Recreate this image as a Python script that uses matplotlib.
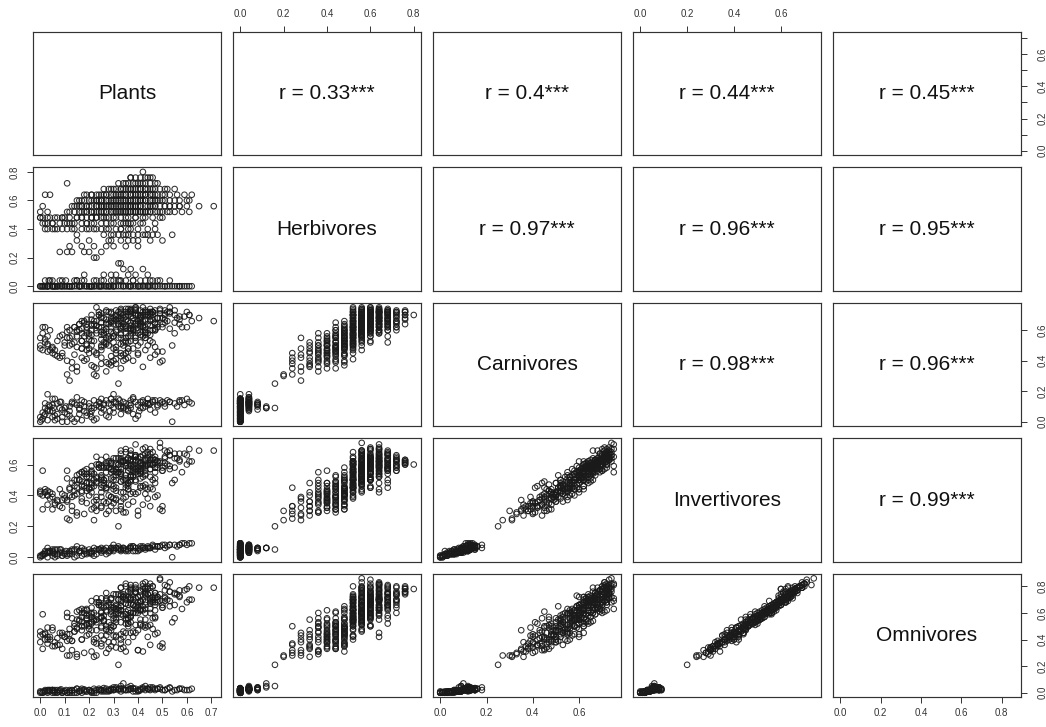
import numpy as np
import matplotlib
matplotlib.use("Agg")
import matplotlib.pyplot as plt

plt.rcParams['font.family'] = ['Liberation Sans', 'DejaVu Sans']

names = ["Plants", "Herbivores", "Carnivores", "Invertivores", "Omnivores"]

# ---- main group, batch 1 ----
main_plants = [
    .32, .22, .23, .13, .11, .20, .25, .12, .17, .27,
    .30, .35, .28, .33, .40, .15, .36, .45, .30, .34,
    .38, .42, .46, .32, .48, .54, .03, .06, .09, .14,
    .20, .25, .31, .36, .40, .44, .02, .05, .08, .12,
    .17, .22, .27, .34, .38, .47, .00, .00, .04, .07,
    .10, .15, .19, .23, .26, .30, .42, .50, .00, .12,
    .16, .18, .21, .24, .26, .29, .31, .33, .35, .37,
    .39, .41, .44, .47, .52, .58, .01, .14, .17, .20,
    .23, .25, .28, .30, .32, .34, .36, .38, .40, .43,
    .46, .49, .55, .71, .65, .15, .18, .22, .24, .27,
    .29, .31, .33, .35, .37, .40, .42, .45, .48, .53,
    .60, .02, .04, .19, .23, .26, .29, .32, .34, .37,
    .39, .42, .46, .50, .56, .62, .26, .30, .33, .36,
    .38, .41, .44, .47, .52, .35, .11, .32, .36, .40,
    .43, .48, .37, .41, .44, .46, .42]
main_herb = [
    .16, .20, .20, .24, .24, .24, .24, .28, .28, .28,
    .28, .28, .32, .32, .32, .32, .32, .32, .36, .36,
    .36, .36, .36, .36, .36, .36, .40, .40, .40, .40,
    .40, .40, .40, .40, .40, .40, .44, .44, .44, .44,
    .44, .44, .44, .44, .44, .44, .48, .48, .48, .48,
    .48, .48, .48, .48, .48, .48, .48, .48, .52, .52,
    .52, .52, .52, .52, .52, .52, .52, .52, .52, .52,
    .52, .52, .52, .52, .52, .52, .56, .56, .56, .56,
    .56, .56, .56, .56, .56, .56, .56, .56, .56, .56,
    .56, .56, .56, .56, .56, .60, .60, .60, .60, .60,
    .60, .60, .60, .60, .60, .60, .60, .60, .60, .60,
    .60, .64, .64, .64, .64, .64, .64, .64, .64, .64,
    .64, .64, .64, .64, .64, .64, .68, .68, .68, .68,
    .68, .68, .68, .68, .68, .68, .72, .72, .72, .72,
    .72, .72, .76, .76, .76, .76, .80]
main_carn = [
    .25, .31, .30, .35, .31, .45, .38, .27, .42, .33,
    .48, .55, .38, .45, .50, .36, .52, .42, .40, .44,
    .48, .36, .52, .55, .46, .50, .50, .47, .45, .52,
    .56, .42, .38, .46, .58, .50, .52, .48, .56, .50,
    .58, .46, .55, .40, .60, .49, .55, .50, .47, .53,
    .50, .56, .62, .44, .58, .52, .63, .40, .48, .55,
    .60, .65, .50, .70, .57, .62, .45, .68, .74, .58,
    .64, .52, .70, .60, .66, .62, .62, .62, .66, .54,
    .60, .68, .56, .64, .72, .50, .66, .61, .70, .58,
    .67, .74, .65, .66, .68, .60, .56, .64, .70, .52,
    .66, .73, .62, .58, .69, .64, .75, .60, .68, .72,
    .62, .62, .60, .64, .58, .68, .72, .64, .70, .60,
    .74, .66, .72, .62, .68, .66, .60, .66, .72, .56,
    .68, .62, .70, .64, .72, .52, .62, .66, .72, .60,
    .70, .64, .72, .68, .64, .70, .70]
main_inv = [
    .20, .24, .30, .30, .25, .45, .33, .24, .36, .28,
    .38, .39, .30, .36, .42, .27, .48, .33, .35, .38,
    .42, .34, .50, .55, .40, .48, .40, .35, .32, .43,
    .48, .32, .30, .44, .56, .38, .42, .31, .44, .40,
    .46, .36, .44, .29, .53, .39, .43, .41, .38, .36,
    .40, .45, .52, .34, .50, .46, .58, .33, .42, .45,
    .50, .54, .42, .60, .48, .55, .38, .62, .68, .50,
    .57, .46, .64, .55, .60, .55, .56, .50, .55, .44,
    .52, .58, .47, .56, .64, .42, .58, .52, .62, .54,
    .60, .74, .58, .69, .69, .50, .46, .54, .58, .45,
    .57, .64, .54, .50, .60, .58, .70, .52, .62, .66,
    .60, .44, .42, .52, .48, .58, .62, .55, .62, .52,
    .66, .60, .68, .56, .64, .62, .50, .56, .64, .48,
    .60, .54, .66, .58, .68, .45, .56, .60, .64, .56,
    .62, .58, .62, .61, .60, .63, .60]
main_omni = [
    .21, .27, .28, .32, .28, .50, .37, .28, .40, .30,
    .43, .45, .33, .40, .47, .27, .55, .36, .38, .42,
    .46, .31, .56, .60, .45, .53, .42, .38, .33, .46,
    .52, .35, .34, .50, .62, .42, .44, .35, .45, .40,
    .50, .40, .48, .34, .60, .44, .46, .38, .40, .36,
    .42, .48, .56, .37, .55, .50, .65, .37, .43, .48,
    .55, .60, .47, .68, .54, .62, .42, .70, .80, .58,
    .65, .52, .74, .62, .70, .63, .59, .52, .60, .48,
    .58, .66, .53, .64, .74, .46, .66, .60, .72, .60,
    .68, .86, .66, .79, .79, .55, .50, .60, .66, .50,
    .64, .74, .62, .56, .70, .66, .82, .60, .72, .76,
    .68, .45, .42, .58, .55, .64, .70, .62, .72, .60,
    .78, .70, .80, .64, .74, .70, .58, .64, .74, .56,
    .70, .62, .78, .68, .80, .52, .60, .70, .76, .64,
    .74, .68, .78, .76, .74, .80, .78]

# ---- main group, batch 2 ----
main2_plants = [
    .18, .08, .22, .40, .20, .38, .50, .26, .36, .44,
    .40, .02, .11, .17, .22, .28, .33, .47, .03, .10,
    .14, .19, .25, .30, .36, .42, .01, .06, .12, .17,
    .21, .28, .33, .36, .39, .46, .03, .14, .19, .22,
    .25, .27, .30, .32, .34, .36, .38, .40, .42, .45,
    .48, .50, .55, .61, .13, .16, .19, .21, .24, .26,
    .29, .31, .33, .35, .37, .39, .41, .44, .47, .51,
    .57, .60, .16, .20, .23, .25, .28, .30, .32, .34,
    .36, .38, .41, .43, .46, .50, .55, .61, .18, .21,
    .24, .27, .30, .33, .35, .38, .40, .43, .45, .48,
    .53, .28, .31, .34, .37, .40, .43, .46, .49, .34,
    .38, .42, .45, .39, .43]
main2_herb = [
    .24, .24, .28, .28, .32, .32, .32, .36, .36, .36,
    .36, .40, .40, .40, .40, .40, .40, .40, .44, .44,
    .44, .44, .44, .44, .44, .44, .48, .48, .48, .48,
    .48, .48, .48, .48, .48, .48, .52, .52, .52, .52,
    .52, .52, .52, .52, .52, .52, .52, .52, .52, .52,
    .52, .52, .52, .52, .56, .56, .56, .56, .56, .56,
    .56, .56, .56, .56, .56, .56, .56, .56, .56, .56,
    .56, .56, .60, .60, .60, .60, .60, .60, .60, .60,
    .60, .60, .60, .60, .60, .60, .60, .60, .64, .64,
    .64, .64, .64, .64, .64, .64, .64, .64, .64, .64,
    .64, .68, .68, .68, .68, .68, .68, .68, .68, .72,
    .72, .72, .72, .76, .76]
main2_carn = [
    .40, .42, .36, .44, .48, .40, .46, .50, .42, .58,
    .45, .54, .40, .48, .53, .50, .55, .44, .46, .52,
    .44, .60, .50, .56, .48, .62, .58, .44, .60, .48,
    .64, .54, .66, .48, .56, .60, .56, .62, .50, .66,
    .54, .72, .58, .64, .52, .70, .60, .66, .56, .72,
    .62, .68, .58, .70, .56, .64, .58, .70, .62, .52,
    .68, .60, .74, .62, .56, .70, .64, .72, .60, .70,
    .64, .72, .64, .58, .66, .62, .72, .56, .68, .64,
    .74, .60, .70, .66, .72, .64, .70, .70, .66, .60,
    .72, .64, .68, .58, .72, .66, .70, .62, .74, .68,
    .72, .64, .70, .62, .74, .66, .60, .72, .68, .68,
    .62, .72, .66, .70, .72]
main2_inv = [
    .28, .33, .32, .27, .40, .36, .30, .36, .46, .44,
    .30, .42, .36, .38, .46, .36, .42, .48, .34, .38,
    .40, .48, .42, .52, .34, .46, .40, .34, .44, .42,
    .48, .40, .55, .44, .50, .44, .40, .46, .48, .50,
    .52, .58, .44, .60, .50, .56, .62, .54, .52, .62,
    .60, .56, .50, .62, .48, .50, .54, .56, .58, .46,
    .60, .50, .62, .60, .52, .66, .56, .68, .58, .64,
    .62, .66, .54, .52, .60, .50, .62, .50, .58, .62,
    .64, .56, .60, .64, .60, .58, .64, .70, .56, .54,
    .60, .60, .64, .54, .70, .58, .64, .58, .70, .62,
    .66, .58, .60, .62, .66, .58, .56, .64, .62, .62,
    .58, .66, .60, .62, .60]
main2_omni = [
    .30, .36, .38, .32, .44, .42, .34, .40, .52, .50,
    .32, .40, .44, .40, .55, .38, .44, .56, .37, .42,
    .46, .52, .50, .56, .38, .50, .44, .35, .44, .50,
    .52, .46, .62, .52, .60, .48, .40, .50, .56, .54,
    .60, .62, .50, .70, .58, .62, .72, .60, .62, .68,
    .72, .64, .56, .70, .56, .54, .62, .60, .68, .54,
    .66, .56, .68, .70, .60, .76, .62, .80, .66, .72,
    .72, .78, .62, .58, .68, .56, .68, .58, .64, .72,
    .72, .66, .68, .76, .70, .66, .74, .80, .62, .64,
    .66, .70, .74, .62, .82, .66, .72, .68, .82, .70,
    .76, .66, .66, .72, .76, .68, .66, .72, .74, .74,
    .66, .80, .70, .76, .78]

# ---- main group, batch 3 ----
main3_plants = [
    .29, .35, .43, .07, .13, .19, .27, .37, .05, .11,
    .21, .29, .41, .03, .09, .17, .25, .31, .35, .43,
    .11, .17, .23, .27, .29, .33, .35, .37, .41, .43,
    .45, .49, .53, .15, .19, .23, .25, .27, .29, .31,
    .33, .35, .37, .39, .41, .45, .47, .51, .57, .17,
    .21, .25, .27, .29, .31, .33, .35, .37, .39, .41,
    .43, .47, .51, .57, .21, .25, .27, .31, .33, .35,
    .37, .41, .43, .47, .51, .59, .29, .33, .37, .39,
    .43, .45, .51, .35, .39, .41, .47, .37, .45, .21,
    .33, .15, .39, .53, .45, .25, .31, .49, .37, .23]
main3_herb = [
    .32, .36, .36, .40, .40, .40, .40, .40, .44, .44,
    .44, .44, .44, .48, .48, .48, .48, .48, .48, .48,
    .52, .52, .52, .52, .52, .52, .52, .52, .52, .52,
    .52, .52, .52, .56, .56, .56, .56, .56, .56, .56,
    .56, .56, .56, .56, .56, .56, .56, .56, .56, .60,
    .60, .60, .60, .60, .60, .60, .60, .60, .60, .60,
    .60, .60, .60, .60, .64, .64, .64, .64, .64, .64,
    .64, .64, .64, .64, .64, .64, .68, .68, .68, .68,
    .68, .68, .68, .72, .72, .72, .72, .76, .76, .48,
    .44, .36, .52, .56, .60, .56, .52, .48, .44, .60]
main3_carn = [
    .37, .41, .47, .43, .51, .47, .39, .53, .49, .55,
    .53, .43, .57, .51, .57, .53, .59, .49, .61, .55,
    .59, .53, .63, .67, .55, .61, .69, .65, .73, .57,
    .63, .71, .61, .59, .67, .63, .57, .65, .71, .59,
    .67, .63, .73, .65, .59, .69, .73, .67, .69, .61,
    .67, .71, .59, .65, .69, .73, .67, .61, .71, .67,
    .73, .65, .71, .67, .63, .69, .73, .67, .71, .63,
    .73, .69, .71, .65, .73, .69, .67, .63, .71, .73,
    .67, .71, .65, .69, .73, .65, .71, .73, .67, .37,
    .35, .33, .75, .75, .53, .47, .41, .39, .65, .75]
main3_inv = [
    .33, .29, .41, .37, .39, .43, .35, .41, .39, .37,
    .47, .39, .45, .43, .41, .49, .45, .37, .51, .53,
    .51, .47, .51, .61, .51, .49, .59, .53, .65, .47,
    .57, .61, .57, .53, .57, .49, .53, .59, .57, .55,
    .63, .53, .67, .57, .51, .63, .65, .61, .67, .55,
    .55, .63, .55, .61, .57, .69, .59, .57, .65, .61,
    .67, .63, .65, .63, .59, .59, .65, .57, .67, .61,
    .63, .65, .71, .61, .69, .67, .61, .57, .69, .63,
    .63, .67, .59, .63, .65, .59, .63, .63, .61, .31,
    .31, .29, .55, .59, .45, .47, .45, .31, .49, .65]
main3_omni = [
    .35, .31, .49, .41, .39, .51, .43, .45, .47, .39,
    .53, .47, .51, .49, .43, .57, .49, .43, .55, .63,
    .57, .53, .55, .71, .59, .53, .67, .57, .73, .55,
    .67, .69, .65, .61, .63, .53, .61, .69, .61, .65,
    .73, .59, .77, .65, .55, .71, .75, .71, .77, .63,
    .59, .71, .65, .71, .63, .79, .67, .67, .75, .69,
    .79, .73, .77, .73, .69, .65, .75, .63, .79, .71,
    .71, .77, .83, .71, .81, .77, .71, .65, .81, .71,
    .75, .79, .69, .73, .79, .69, .75, .79, .75, .31,
    .33, .29, .63, .69, .51, .57, .53, .35, .53, .71]

# ---- main group, batch 4 ----
main4_plants = [
    .19, .23, .31, .27, .35, .39, .15, .21, .29, .33,
    .37, .41, .45, .25, .17, .31, .43, .47, .13, .09,
    .05, .01, .23, .35, .39, .43, .29, .33, .19, .27,
    .31, .37, .41, .45, .49, .53, .39, .55, .33, .25]
main4_herb = [
    .44, .48, .52, .48, .52, .56, .48, .52, .56, .52,
    .56, .60, .56, .60, .56, .60, .64, .60, .44, .48,
    .40, .44, .40, .44, .48, .52, .36, .40, .52, .56,
    .64, .60, .68, .64, .60, .56, .64, .68, .56, .52]
main4_carn = [
    .41, .45, .47, .51, .53, .55, .49, .57, .59, .51,
    .61, .63, .57, .65, .53, .69, .59, .61, .39, .43,
    .45, .47, .35, .45, .53, .55, .39, .43, .51, .61,
    .67, .63, .69, .71, .73, .71, .75, .73, .57, .49]
main4_inv = [
    .35, .39, .43, .45, .47, .49, .41, .45, .47, .53,
    .53, .55, .57, .51, .43, .55, .59, .51, .33, .37,
    .41, .31, .37, .49, .41, .45, .39, .33, .45, .51,
    .53, .59, .57, .63, .71, .69, .73, .67, .49, .39]
main4_omni = [
    .43, .41, .55, .47, .59, .51, .49, .57, .51, .65,
    .57, .69, .63, .57, .47, .61, .73, .57, .39, .45,
    .49, .33, .47, .61, .45, .51, .49, .37, .55, .61,
    .59, .71, .63, .69, .85, .83, .81, .75, .59, .43]

# ---- near-zero group, batch 1 ----
zero_plants = [
    .00, .01, .02, .03, .04, .06, .06, .07, .09, .09,
    .10, .11, .12, .13, .14, .16, .16, .17, .18, .19,
    .20, .21, .22, .23, .24, .25, .26, .27, .28, .29,
    .30, .31, .32, .33, .34, .35, .36, .37, .38, .39,
    .40, .41, .42, .43, .44, .45, .46, .47, .48, .50,
    .52, .54, .55, .57, .59, .60, .62, .02, .05, .08,
    .12, .15, .18, .21, .25, .28, .33, .36, .40, .44,
    .03, .30]
zero_herb = [
    0, 0, 0, 0, .04, 0, 0, 0, 0, .04,
    0, 0, 0, 0, .04, 0, 0, 0, .08, 0,
    0, 0, .04, 0, 0, 0, .04, 0, 0, .08,
    0, 0, .04, 0, .12, 0, .08, 0, .04, 0,
    0, .04, .12, 0, 0, .04, 0, 0, .04, 0,
    0, 0, 0, 0, 0, 0, 0, 0, .04, 0,
    0, .04, 0, 0, .04, 0, .04, 0, 0, .08,
    0, .04]
zero_carn = [
    .00, .02, .05, .08, .10, .01, .04, .12, .03, .08,
    .06, .00, .10, .02, .12, .05, .08, .01, .10, .04,
    .12, .07, .14, .02, .10, .06, .12, .14, .03, .11,
    .09, .13, .15, .05, .10, .12, .08, .14, .16, .02,
    .11, .13, .09, .10, .15, .12, .14, .06, .11, .13,
    .14, .00, .12, .13, .11, .15, .12, .12, .07, .09,
    .04, .11, .07, .03, .09, .12, .10, .07, .04, .12,
    .18, .18]
zero_inv = [
    .00, .01, .02, .03, .04, .00, .02, .05, .01, .03,
    .02, .01, .04, .02, .05, .03, .04, .01, .04, .03,
    .05, .03, .06, .02, .05, .03, .05, .06, .03, .05,
    .04, .06, .07, .04, .06, .05, .05, .06, .07, .04,
    .06, .07, .06, .05, .07, .06, .07, .05, .07, .08,
    .07, .00, .08, .08, .09, .08, .09, .04, .03, .03,
    .02, .05, .02, .02, .04, .04, .05, .04, .04, .06,
    .06, .08]
zero_omni = [
    .00, .00, .01, .01, .02, .00, .01, .02, .00, .01,
    .01, .00, .02, .00, .02, .01, .01, .00, .02, .01,
    .02, .01, .03, .00, .02, .01, .02, .03, .01, .02,
    .02, .03, .03, .01, .07, .02, .04, .03, .03, .01,
    .02, .03, .04, .02, .03, .04, .03, .02, .03, .02,
    .03, .01, .02, .03, .02, .02, .03, .01, .02, .01,
    .00, .03, .01, .00, .02, .02, .03, .02, .01, .03,
    .02, .04]

# ---- near-zero group, batch 2 ----
zero2_plants = [
    .00, .01, .02, .03, .04, .05, .07, .08, .10, .11,
    .13, .14, .16, .17, .19, .20, .22, .23, .24, .26,
    .27, .29, .30, .31, .32, .34, .35, .37, .38, .39,
    .41, .42, .43, .45, .46, .48, .49, .51, .53, .56,
    .58, .61, .06, .09, .15, .25, .33, .44]
zero2_herb = [
    0, 0, .04, 0, 0, 0, 0, .04, 0, 0,
    0, 0, 0, .04, 0, 0, 0, .04, 0, 0,
    0, .04, 0, .08, 0, 0, .04, 0, 0, .08,
    0, 0, .04, 0, .04, 0, 0, 0, .04, 0,
    0, 0, 0, 0, .04, 0, .16, 0]
zero2_carn = [
    .03, .06, .09, .01, .07, .11, .02, .13, .09, .05,
    .12, .00, .09, .14, .06, .10, .01, .11, .13, .08,
    .04, .15, .06, .12, .10, .13, .08, .11, .05, .13,
    .09, .14, .12, .08, .13, .10, .14, .12, .13, .10,
    .14, .13, .15, .00, .16, .15, .09, .12]
zero2_inv = [
    .01, .02, .03, .00, .03, .04, .01, .05, .03, .02,
    .04, .00, .04, .06, .02, .03, .01, .05, .05, .04,
    .02, .06, .05, .06, .05, .06, .04, .07, .04, .06,
    .05, .07, .06, .06, .08, .07, .07, .08, .08, .07,
    .09, .09, .05, .01, .07, .06, .05, .06]
zero2_omni = [
    .01, .00, .02, .00, .01, .02, .00, .02, .01, .00,
    .02, .00, .01, .03, .01, .02, .00, .02, .03, .01,
    .01, .03, .02, .04, .02, .03, .02, .03, .01, .03,
    .02, .03, .05, .02, .04, .03, .03, .02, .04, .02,
    .03, .02, .02, .00, .03, .02, .05, .03]

# ---- near-zero group, batch 3 ----
zero3_plants = [
    .005, .015, .03, .035, .05, .055, .07, .085, .105, .12,
    .15, .165, .18, .205, .22, .245, .26, .285, .30, .325,
    .34, .365, .38, .405, .42, .445, .47, .49, .51, .53,
    .57, .05, .13, .21, .29, .37]
zero3_herb = [
    0, 0, 0, .04, 0, 0, 0, 0, .04, 0,
    0, 0, .04, 0, 0, 0, .08, 0, 0, .04,
    0, 0, .04, 0, 0, 0, 0, .04, 0, 0,
    0, 0, 0, 0, 0, .12]
zero3_carn = [
    .01, .04, .07, .11, .03, .09, .05, .13, .10, .07,
    .02, .11, .13, .05, .09, .12, .11, .07, .13, .14,
    .09, .12, .15, .07, .13, .11, .14, .12, .10, .13,
    .14, .15, .13, .09, .15, .09]
zero3_inv = [
    .01, .02, .03, .04, .01, .03, .02, .05, .04, .03,
    .01, .04, .05, .03, .04, .05, .05, .04, .06, .06,
    .05, .06, .07, .05, .06, .06, .07, .07, .06, .08,
    .08, .05, .05, .04, .06, .06]
zero3_omni = [
    .005, .01, .015, .02, .0, .01, .005, .025, .02, .01,
    .0, .02, .025, .01, .015, .02, .035, .015, .025, .03,
    .02, .025, .035, .015, .03, .025, .03, .04, .02, .035,
    .03, .02, .015, .01, .025, .05]

r_pairs = [(0, 1), (0, 2), (0, 3), (0, 4), (1, 2), (1, 3), (1, 4), (2, 3), (2, 4), (3, 4)]
r_texts = ["r = 0.33***", "r = 0.4***", "r = 0.44***", "r = 0.45***",
           "r = 0.97***", "r = 0.96***", "r = 0.95***",
           "r = 0.98***", "r = 0.96***", "r = 0.99***"]

tick_vals = [
    [0.0, 0.1, 0.2, 0.3, 0.4, 0.5, 0.6, 0.7],
    [0.0, 0.2, 0.4, 0.6, 0.8],
    [0.0, 0.2, 0.4, 0.6],
    [0.0, 0.2, 0.4, 0.6],
    [0.0, 0.2, 0.4, 0.6, 0.8],
]

data = [
    np.array(main_plants + main2_plants + main3_plants + main4_plants
             + zero_plants + zero2_plants + zero3_plants),
    np.array(main_herb + main2_herb + main3_herb + main4_herb
             + zero_herb + zero2_herb + zero3_herb),
    np.array(main_carn + main2_carn + main3_carn + main4_carn
             + zero_carn + zero2_carn + zero3_carn),
    np.array(main_inv + main2_inv + main3_inv + main4_inv
             + zero_inv + zero2_inv + zero3_inv),
    np.array(main_omni + main2_omni + main3_omni + main4_omni
             + zero_omni + zero2_omni + zero3_omni),
]

lims = []
for v in data:
    mn, mx = v.min(), v.max()
    rg = mx - mn
    lims.append((mn - 0.04 * rg, mx + 0.04 * rg))

W, H = 1046, 727
fig = plt.figure(figsize=(W / 100, H / 100), dpi=100)
pw, ph = 187.4, 123.5
frame_col = '#333333'
lab_col = '#333333'
tfs = 7

def fmt(v):
    return f"{v:.1f}"

for i in range(5):
    for j in range(5):
        l = 33.3 + 200 * j
        t = 31.8 + 135.5 * i
        ax = fig.add_axes([l / W, 1 - (t + ph) / H, pw / W, ph / H])
        ax.set_xlim(lims[j])
        ax.set_ylim(lims[i])
        for sp in ax.spines.values():
            sp.set_linewidth(0.85)
            sp.set_color(frame_col)
        ax.tick_params(which='both', left=False, right=False, top=False, bottom=False,
                       labelleft=False, labelright=False, labeltop=False, labelbottom=False)
        ax.set_xticks([])
        ax.set_yticks([])
        if i == j:
            ax.text(0.5, 0.5, names[i], transform=ax.transAxes, ha='center', va='center',
                    fontsize=15, color='#111111')
        elif i < j:
            k = r_pairs.index((i, j))
            ax.text(0.5, 0.5, r_texts[k], transform=ax.transAxes, ha='center', va='center',
                    fontsize=15, color='#111111')
        else:
            ax.scatter(data[j], data[i], s=16, facecolors='none', edgecolors='#1a1a1a',
                       linewidths=0.75, alpha=0.9)
        # axes like R pairs
        if i == 0 and j % 2 == 1:
            ax.set_xticks(tick_vals[j])
            ax.set_xticklabels([fmt(v) for v in tick_vals[j]])
            ax.tick_params(axis='x', top=True, labeltop=True, direction='out', length=4,
                           width=0.7, color=frame_col, labelsize=tfs, labelcolor=lab_col, pad=5)
        if i == 4 and j % 2 == 0:
            ax.set_xticks(tick_vals[j])
            ax.set_xticklabels([fmt(v) for v in tick_vals[j]])
            ax.tick_params(axis='x', bottom=True, labelbottom=True, direction='out', length=4,
                           width=0.7, color=frame_col, labelsize=tfs, labelcolor=lab_col, pad=4)
        if j == 0 and i % 2 == 1:
            ax.set_yticks(tick_vals[i])
            ax.set_yticklabels([fmt(v) for v in tick_vals[i]], rotation=90, va='center')
            ax.tick_params(axis='y', left=True, labelleft=True, direction='out', length=4,
                           width=0.7, color=frame_col, labelsize=tfs, labelcolor=lab_col, pad=6)
        if j == 4 and i % 2 == 0:
            ax.set_yticks(tick_vals[i])
            labs = [fmt(v) for v in tick_vals[i]]
            if i == 0:
                labs = [s if k % 2 == 0 else '' for k, s in enumerate(labs)]
            ax.set_yticklabels(labs, rotation=90, va='center')
            ax.tick_params(axis='y', right=True, labelright=True, direction='out', length=4,
                           width=0.7, color=frame_col, labelsize=tfs, labelcolor=lab_col, pad=8)

fig.savefig("out.png", dpi=100, facecolor='white')
